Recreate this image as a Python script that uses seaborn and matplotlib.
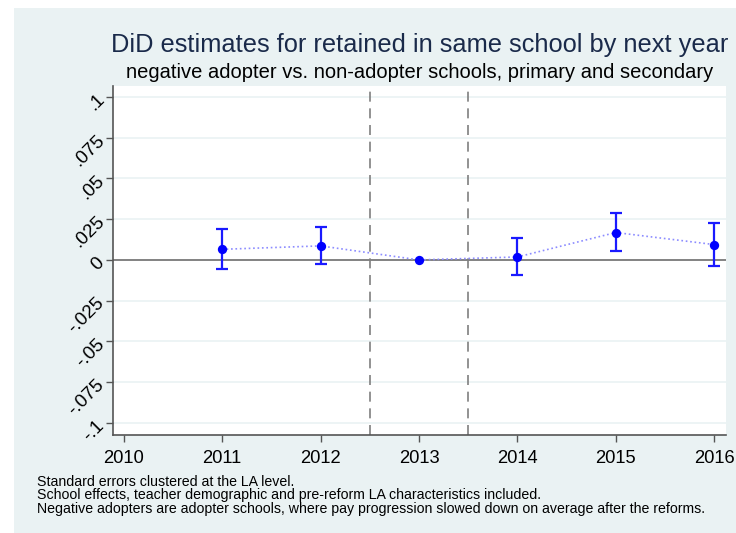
import matplotlib
matplotlib.use("Agg")
import matplotlib.pyplot as plt
import seaborn as sns
import pandas as pd
from matplotlib.patches import Rectangle

# DiD estimates
years = [2011, 2012, 2013, 2014, 2015, 2016]
estimate = [0.0065, 0.0086, 0.0, 0.0018, 0.0168, 0.0094]
ci_low = [-0.0057, -0.0027, 0.0, -0.0092, 0.0055, -0.0037]
ci_high = [0.0190, 0.0204, 0.0, 0.0133, 0.0286, 0.0225]

x_ticks = [2010, 2011, 2012, 2013, 2014, 2015, 2016]
y_ticks = [0.1, 0.075, 0.05, 0.025, 0, -0.025, -0.05, -0.075, -0.1]
y_labels = [".1", ".075", ".05", ".025", "0", "-.025", "-.05", "-.075", "-.1"]
reform_lines = [2012.5, 2013.5]

notes = [
    "Standard errors clustered at the LA level.",
    "School effects, teacher demographic and pre-reform LA characteristics included.",
    "Negative adopters are adopter schools, where pay progression slowed down on average after the reforms.",
]

df = pd.DataFrame({"year": years, "est": estimate, "lo": ci_low, "hi": ci_high})

sns.set_style("white")
plt.rcParams["font.family"] = ["Liberation Sans", "DejaVu Sans"]

fig = plt.figure(figsize=(7.36, 5.33), dpi=100, facecolor="white")
bg = Rectangle((0.019, 0), 0.981, 0.985, transform=fig.transFigure,
               facecolor="#eaf2f3", edgecolor="none", zorder=-10)
fig.patches.append(bg)

ax = fig.add_axes([0.1535, 0.1839, 0.8329, 0.6548])
ax.set_zorder(5)
ax.set_facecolor("white")

for yv in y_ticks:
    ax.axhline(yv, color="#eaf2f3", lw=1.2, zorder=0)
ax.axhline(0, color="#7a7a7a", lw=1.3, zorder=1)
for xv in reform_lines:
    ax.axvline(xv, color="#7f7f7f", lw=1.2, ls=(0, (6, 4)), zorder=1)

sns.lineplot(data=df, x="year", y="est", ax=ax, color="#8c8cff", lw=1.2,
             linestyle=":", zorder=2)
ci = df[df["hi"] != df["lo"]]
ax.errorbar(ci["year"], ci["est"], yerr=[ci["est"] - ci["lo"], ci["hi"] - ci["est"]],
            fmt="none", ecolor="#1a1aff", elinewidth=1.6, capsize=4.5, capthick=1.6, zorder=3)
sns.scatterplot(data=df, x="year", y="est", ax=ax, color="#0000ff", s=45,
                edgecolor="#0000ff", linewidth=0, zorder=4)

ax.set_xlim(2009.89, 2016.12)
ax.set_ylim(-0.1074, 0.1067)
ax.set_xticks(x_ticks)
ax.set_xticklabels([str(t) for t in x_ticks], fontsize=13.2)
ax.set_yticks(y_ticks)
ax.set_yticklabels(y_labels, fontsize=13.5, rotation=45, ha="right", va="center",
                   rotation_mode="anchor")
ax.tick_params(axis="both", direction="out", length=5, width=1, color="#555555",
               labelcolor="black", bottom=True, left=True)
ax.tick_params(axis="x", pad=6)
ax.tick_params(axis="y", pad=3)
ax.set_xlabel("")
ax.set_ylabel("")
for side in ["top", "right"]:
    ax.spines[side].set_visible(False)
for side in ["left", "bottom"]:
    ax.spines[side].set_color("#555555")
    ax.spines[side].set_linewidth(1.2)

fig.text(0.5706, 0.9156, "DiD estimates for retained in same school by next year",
         ha="center", va="center", fontsize=18.3, color="#1a2a4a")
fig.text(0.5706, 0.864, "negative adopter vs. non-adopter schools, primary and secondary",
         ha="center", va="center", fontsize=14.5, color="black")
for i, line in enumerate(notes):
    fig.text(0.05, 0.0966 - i * 0.0256, line, ha="left", va="center", fontsize=10.2,
             color="black")

fig.savefig("out.png", dpi=100, facecolor="white")
